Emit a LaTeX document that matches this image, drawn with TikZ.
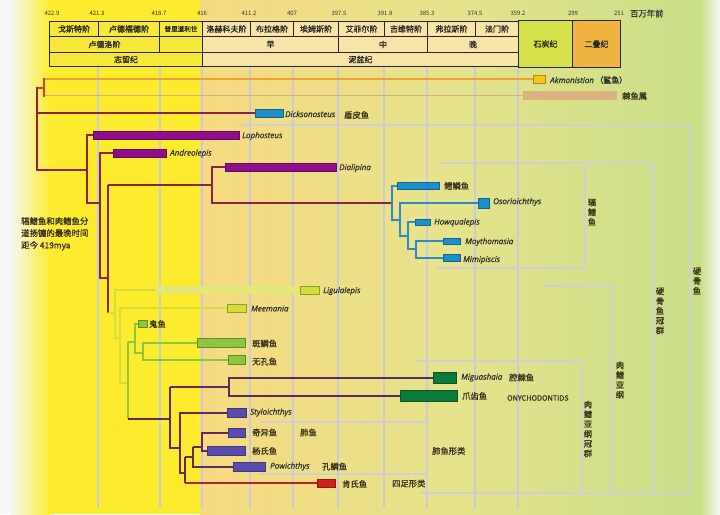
\documentclass[tikz,border=0pt]{standalone}
\usepackage{fontspec}
\setmainfont{Noto Sans CJK SC}
\newfontfamily\cjkb{Noto Sans CJK SC}[FakeBold=1.3]
\newfontfamily\lat{Open Sans}[FakeBold=0.5]
\newcommand\myfs[1]{\fontsize{#1}{#1}\selectfont}
\definecolor{bgY}{HTML}{FDEC2E}
\definecolor{bgA}{HTML}{F7DA80}
\definecolor{bgB}{HTML}{E6E38C}
\definecolor{bgC}{HTML}{C8DF88}
\definecolor{silC}{HTML}{F8E83A}
\definecolor{devC}{HTML}{F8E4A6}
\definecolor{carbC}{HTML}{D6E24C}
\definecolor{permC}{HTML}{F0B440}
\definecolor{rpC}{HTML}{8B2346}
\definecolor{purB}{HTML}{8E0E8C}
\definecolor{blC}{HTML}{2A8CC4}
\definecolor{blB}{HTML}{1B8FCB}
\definecolor{lgC}{HTML}{D6DE3A}
\definecolor{lgB}{HTML}{D2DC3A}
\definecolor{paleB}{HTML}{E4E878}
\definecolor{mgC}{HTML}{8CC63E}
\definecolor{mgB}{HTML}{8DC63F}
\definecolor{dpC}{HTML}{5E2B5C}
\definecolor{dgB}{HTML}{0B7A3B}
\definecolor{slB}{HTML}{5B4DB0}
\definecolor{redB}{HTML}{D0201E}
\definecolor{redL}{HTML}{B82030}
\definecolor{orC}{HTML}{F0A030}
\definecolor{akB}{HTML}{F7C51E}
\definecolor{tanC}{HTML}{D8AE86}
\definecolor{tanB}{HTML}{DDB080}
\definecolor{rootR}{HTML}{D8402A}
\definecolor{brC}{HTML}{CFCFD6}
\definecolor{grC}{HTML}{C9CCD8}
\definecolor{txC}{HTML}{3B3320}
\definecolor{itC}{HTML}{2C2C2C}
\begin{document}
\begin{tikzpicture}[x=1pt,y=-1pt,
 rp/.style={draw=rpC, line width=2.2pt},
 bl/.style={draw=blC, line width=2pt},
 lg/.style={draw=lgC, line width=1.6pt},
 mg/.style={draw=mgC, line width=2pt},
 dp/.style={draw=dpC, line width=2pt},
 gbr/.style={draw=brC, line width=1.8pt},
 gridl/.style={draw=grC, line width=1.3pt},
 tb/.style={draw=#1!70!black, fill=#1, line width=0.4pt, inner sep=0pt, anchor=west},
 lbl/.style={anchor=west, inner sep=0pt, font=\cjkb\myfs{8.3}, text=txC},
 ilbl/.style={anchor=west, inner sep=0pt, font=\lat\itshape\myfs{8}, text=itC},
 vlbl/.style={inner sep=0pt, align=center, font=\cjkb\fontsize{8.3}{9.8}\selectfont, text=txC},
 cell/.style={draw=black!85, line width=1pt, inner sep=0pt, anchor=north west, font=\cjkb\myfs{8}, text=black!85},
 tick/.style={inner sep=0pt, font=\myfs{6}, text=black!80}]
\useasboundingbox (0,0) rectangle (720,514);
% background
\fill[white!94!gray] (0,0) rectangle (720,514);
\shade[left color=white!94!gray, right color=bgY] (10,0) rectangle (50,514);
\fill[bgY] (50,0) rectangle (200,514);
\shade[left color=bgA, right color=bgC, middle color=bgB] (200,0) rectangle (700,514);
\shade[left color=bgC, right color=white!94!gray] (700,0) rectangle (720,514);
% grid
\foreach \gx in {98,160,202,250,293,338,384,427,475,518}
  \draw[gridl] (\gx,66) -- (\gx,508);
% header
\node[cell, fill=silC, minimum width=49pt, minimum height=15pt] (h11) at (49,21) {戈斯特阶};
\node[cell, fill=silC, minimum width=61pt, minimum height=15pt] (h12) at (98,21) {卢德福德阶};
\node[cell, fill=silC, minimum width=43pt, minimum height=15pt, font=\cjkb\myfs{6.6}] (h13) at (159,21) {普里道利世};
\node[cell, fill=devC, minimum width=48pt, minimum height=15pt] (h14) at (202,21) {洛赫科夫阶};
\node[cell, fill=devC, minimum width=43pt, minimum height=15pt] (h15) at (250,21) {布拉格阶};
\node[cell, fill=devC, minimum width=45pt, minimum height=15pt] (h16) at (293,21) {埃姆斯阶};
\node[cell, fill=devC, minimum width=46pt, minimum height=15pt] (h17) at (338,21) {艾菲尔阶};
\node[cell, fill=devC, minimum width=43pt, minimum height=15pt] (h18) at (384,21) {吉维特阶};
\node[cell, fill=devC, minimum width=48pt, minimum height=15pt] (h19) at (427,21) {弗拉斯阶};
\node[cell, fill=devC, minimum width=43pt, minimum height=15pt] (h110) at (475,21) {法门阶};
\node[cell, fill=silC, minimum width=110pt, minimum height=16pt] (h21) at (49,36) {卢德洛阶};
\node[cell, fill=silC, minimum width=43pt, minimum height=16pt] (h22) at (159,36) {};
\node[cell, fill=devC, minimum width=136pt, minimum height=16pt] (h23) at (202,36) {早};
\node[cell, fill=devC, minimum width=89pt, minimum height=16pt] (h24) at (338,36) {中};
\node[cell, fill=devC, minimum width=91pt, minimum height=16pt] (h25) at (427,36) {晚};
\node[cell, fill=silC, minimum width=153pt, minimum height=14pt] (h31) at (49,52) {志留纪};
\node[cell, fill=devC, minimum width=316pt, minimum height=14pt] (h32) at (202,52) {泥盆纪};
\node[cell, fill=carbC, minimum width=54pt, minimum height=47pt] (carb) at (518,20) {石炭纪};
\node[cell, fill=permC, minimum width=48pt, minimum height=47pt] (perm) at (572,20) {二叠纪};
% ticks
\foreach \tx/\tl in {52/422.9,97/421.3,159/418.7,202/416,249/411.2,292/407,339/397.5,385/391.8,427/385.3,475/374.5,518/359.2,573/299,619/251}
  \node[tick] at (\tx,13.5) {\tl};
\node[anchor=west, inner sep=0pt, font=\cjkb\myfs{8.3}, text=black!80] (myr) at (630,13.5) {百万年前};
% clade brackets
\draw[gbr] (240,125) -- (690,125) -- (690,493);
\draw[gbr] (440,163) -- (653,163) -- (653,493);
\draw[gbr] (585,163) -- (585,268) -- (437,268);
\draw[gbr] (543,286) -- (612,286) -- (612,493);
\draw[gbr] (417,361) -- (582,361) -- (582,493);
\draw[gbr] (260,422) -- (427,422) -- (427,493);
\draw[gbr] (260,474) -- (427,474);
\draw[gbr] (420,493) -- (690,493);
% outgroups
\node[tb=akB, minimum width=12pt, minimum height=8pt] (akm) at (533,79) {};
\node[tb=tanB, minimum width=94pt, minimum height=9pt, draw=none] (acan) at (523,95.5) {};
\coordinate (r0) at (44,79);
\coordinate (r1) at (44,95.5);
\draw[draw=orC, line width=2pt] (r0) -- (akm.west);
\draw[draw=tanC, line width=1.6pt] (r1) -- (acan.west);
\draw[draw=rootR, line width=2pt] (44,78) -- (44,96.5) (37,88) -- (44,88);
% placoderm + stem
\node[tb=blB, minimum width=28pt, minimum height=8pt] (dick) at (255,113) {};
\node[tb=purB, minimum width=146pt, minimum height=8pt] (loph) at (93,135) {};
\node[tb=purB, minimum width=53pt, minimum height=8pt] (andr) at (113,153) {};
\node[tb=purB, minimum width=111pt, minimum height=8pt] (dial) at (225,167) {};
\draw[rp] (37,87) -- (37,170) -- (87,170);
\draw[rp] (37,113) -- (dick.west);
\draw[rp] (loph.west) -- (87,135) -- (87,203) -- (100,203);
\draw[rp] (andr.west) -- (100,153) -- (100,278) -- (108,278);
\draw[rp] (108,185) -- (108,313);
\draw[rp] (dial.west) -- (212,167) -- (212,203) -- (392,203);
\draw[rp] (108,185) -- (212,185);
% actinopterygians
\node[tb=blB, minimum width=42pt, minimum height=7pt] (cheir) at (397,185.5) {};
\node[tb=blB, minimum width=11pt, minimum height=10pt] (osor) at (478,203) {};
\node[tb=blB, minimum width=15pt, minimum height=6.5pt] (howq) at (415,222) {};
\node[tb=blB, minimum width=17pt, minimum height=6.5pt] (moyt) at (443,241) {};
\node[tb=blB, minimum width=17pt, minimum height=7pt] (mimi) at (443,257.5) {};
\draw[bl] (cheir.west) -- (392,185.5) -- (392,220) -- (400,220);
\draw[bl] (osor.west) -- (400,203) -- (400,236) -- (408,236);
\draw[bl] (howq.west) -- (408,222) -- (408,249) -- (416,249);
\draw[bl] (moyt.west) -- (416,241) -- (416,257.5) -- (mimi.west);
% green stem sarcopterygians
\node[tb=paleB, minimum width=145pt, minimum height=8pt, draw=none] (ligp) at (155,290) {};
\node[tb=lgB, minimum width=19pt, minimum height=8pt] (ligu) at (300,290) {};
\node[tb=lgB, minimum width=19pt, minimum height=8pt] (meem) at (227,308) {};
\node[tb=mgB, minimum width=9pt, minimum height=7pt] (guiy) at (138,324) {};
\node[tb=mgB, minimum width=48pt, minimum height=9pt] (psar) at (197,343) {};
\node[tb=mgB, minimum width=17pt, minimum height=9pt] (acho) at (228,359.5) {};
\draw[lg] (ligp.west) -- (115,290) -- (115,338) -- (120,338);
\draw[lg] (108,313) -- (115,313);
\draw[lg] (meem.west) -- (120,308) -- (120,383) -- (128,383);
\draw[mg] (128,342) -- (128,419);
\draw[mg] (guiy.west) -- (135,324) -- (135,353) -- (143,353);
\draw[mg] (128,342) -- (135,342);
\draw[mg] (psar.west) -- (143,343) -- (143,359.5) -- (acho.west);
% crown sarcopterygians
\node[tb=dgB, minimum width=23pt, minimum height=11pt] (migu) at (433,377.5) {};
\node[tb=dgB, minimum width=57pt, minimum height=11pt] (onyc) at (400,395.5) {};
\node[tb=slB, minimum width=19pt, minimum height=9pt] (styl) at (227,412.5) {};
\node[tb=slB, minimum width=17pt, minimum height=9pt] (qiyi) at (228,432.5) {};
\node[tb=slB, minimum width=38pt, minimum height=9pt] (yang) at (207,450.5) {};
\node[tb=slB, minimum width=32pt, minimum height=9pt] (powi) at (233,466.5) {};
\node[tb=redB, minimum width=18pt, minimum height=8pt] (kenn) at (317,483) {};
\draw[dp] (128,419) -- (170,419);
\draw[dp] (170,387) -- (170,448) -- (180,448);
\draw[dp] (170,387) -- (229,387);
\draw[dp] (migu.west) -- (229,377.5) -- (229,395.5) -- (onyc.west);
\draw[dp] (styl.west) -- (180,412.5) -- (180,473) -- (185,473);
\draw[dp] (185,457) -- (185,483);
\draw[draw=redL, line width=2pt] (185,483) -- (kenn.west);
\draw[dp] (185,457) -- (193,457);
\draw[dp] (193,447) -- (193,466.5) -- (powi.west);
\draw[dp] (193,447) -- (202,447);
\draw[dp] (qiyi.west) -- (202,432.5) -- (202,450.5) -- (yang.west);
% labels
\node[ilbl] (lakm) at (550,80) {Akmonistion\,\textup{\cjkb（鲨鱼）}};
\node[lbl] (lacan) at (622,96) {棘鱼属};
\node[ilbl] (ldick) at (285,114) {Dicksonosteus};
\node[lbl] (lplac) at (344,115) {盾皮鱼};
\node[ilbl] (lloph) at (242,136) {Lophosteus};
\node[ilbl] (landr) at (170,153.5) {Andreolepis};
\node[ilbl] (ldial) at (339,168) {Dialipina};
\node[lbl] (lcheir) at (444,186) {鳕鳞鱼};
\node[ilbl] (losor) at (493,202) {Osorioichthys};
\node[ilbl] (lhowq) at (434,222.5) {Howqualepis};
\node[ilbl] (lmoyt) at (465,242) {Moythomasia};
\node[ilbl] (lmimi) at (463,260) {Mimipiscis};
\node[ilbl] (lligu) at (323,291) {Ligulalepis};
\node[ilbl] (lmeem) at (251,308.5) {Meemania};
\node[lbl] (lguiy) at (149,324) {鬼鱼};
\node[lbl] (lpsar) at (252,343.5) {斑鳞鱼};
\node[lbl] (lacho) at (252,361.5) {无孔鱼};
\node[ilbl] (lmigu) at (461,377.5) {Miguashaia};
\node[lbl] (lcoel) at (509,377.5) {腔棘鱼};
\node[lbl] (lonyc) at (462,396) {爪齿鱼};
\node[lbl, font=\cjkb\myfs{7.3}] (lonyc2) at (507,398) {ONYCHODONTIDS};
\node[ilbl] (lstyl) at (250,412.5) {Styloichthys};
\node[lbl] (lqiyi) at (252,432.5) {奇异鱼};
\node[lbl] (ldipn) at (300,432.5) {肺鱼};
\node[lbl] (lyang) at (252,451) {杨氏鱼};
\node[ilbl] (lpowi) at (270,466.5) {Powichthys};
\node[lbl] (lporo) at (322,466.5) {孔鳞鱼};
\node[lbl] (lkenn) at (342,484) {肯氏鱼};
\node[lbl] (ltetr) at (392,483.5) {四足形类};
\node[lbl] (ldipm) at (432,451) {肺鱼形类};
% vertical clade labels
\node[vlbl] (vact) at (592,212) {辐\\鳍\\鱼};
\node[vlbl] (vost) at (697,281) {硬\\骨\\鱼};
\node[vlbl] (vostc) at (660,311) {硬\\骨\\鱼\\冠\\群};
\node[vlbl] (vsar) at (620,380) {肉\\鳍\\亚\\纲};
\node[vlbl] (vsarc) at (588,429) {肉\\鳍\\亚\\纲\\冠\\群};
% note
\node[anchor=north west, inner sep=0pt, align=left, font=\cjkb\fontsize{8.4}{12}\selectfont, text=txC] (note) at (21,217) {辐鳍鱼和肉鳍鱼分\\道扬镳的最晚时间\\距今 419mya};
\end{tikzpicture}
\end{document}
